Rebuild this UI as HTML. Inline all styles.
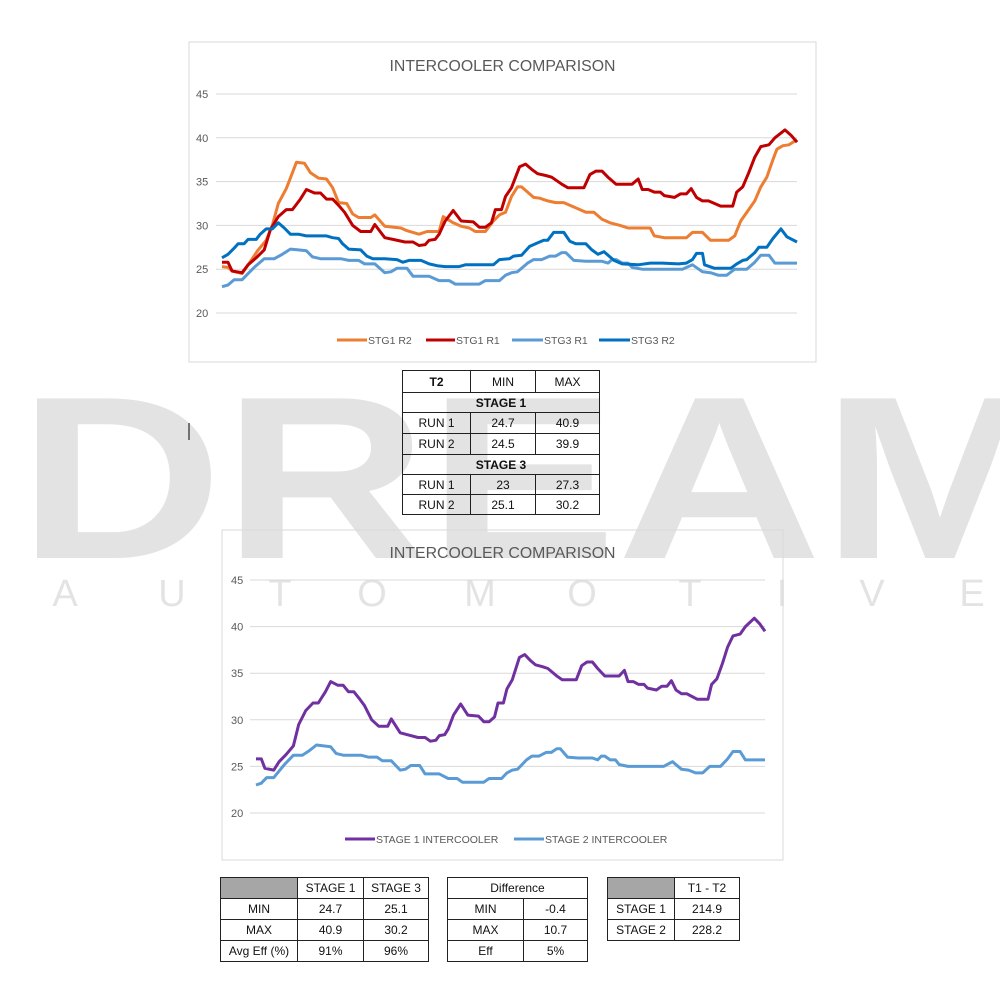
<!DOCTYPE html>
<html><head><meta charset="utf-8">
<style>
body{margin:0;background:#fff;}
#root{position:relative;width:1000px;height:1000px;overflow:hidden;font-family:"Liberation Sans",sans-serif;}
svg{position:absolute;left:0;top:0;}
table{position:absolute;border-collapse:collapse;font-family:"Liberation Sans Narrow","Liberation Sans",sans-serif;font-size:12px;color:#111;}
td{border:1.5px solid #222;text-align:center;padding:0;}
</style></head><body><div id="root">
<table style="left:402px;top:370px;width:198px;">
<tr style="height:22px"><td style="width:67px;font-weight:bold">T2</td><td style="width:64px">MIN</td><td>MAX</td></tr>
<tr style="height:20px"><td colspan="3" style="font-weight:bold">STAGE 1</td></tr>
<tr style="height:21px"><td>RUN 1</td><td>24.7</td><td>40.9</td></tr>
<tr style="height:21px"><td>RUN 2</td><td>24.5</td><td>39.9</td></tr>
<tr style="height:20px"><td colspan="3" style="font-weight:bold">STAGE 3</td></tr>
<tr style="height:20px"><td>RUN 1</td><td>23</td><td>27.3</td></tr>
<tr style="height:20px"><td>RUN 2</td><td>25.1</td><td>30.2</td></tr>
</table>
<table style="left:220px;top:877px;width:209px;">
<tr style="height:21px"><td style="width:76px;background:#a6a6a6"></td><td style="width:65px">STAGE 1</td><td>STAGE 3</td></tr>
<tr style="height:21px"><td>MIN</td><td>24.7</td><td>25.1</td></tr>
<tr style="height:21px"><td>MAX</td><td>40.9</td><td>30.2</td></tr>
<tr style="height:21px"><td>Avg Eff (%)</td><td>91%</td><td>96%</td></tr>
</table>
<table style="left:447px;top:877px;width:141px;">
<tr style="height:21px"><td colspan="2">Difference</td></tr>
<tr style="height:21px"><td style="width:75px">MIN</td><td>-0.4</td></tr>
<tr style="height:21px"><td>MAX</td><td>10.7</td></tr>
<tr style="height:21px"><td>Eff</td><td>5%</td></tr>
</table>
<table style="left:607px;top:877px;width:133px;">
<tr style="height:21px"><td style="width:66px;background:#a6a6a6"></td><td>T1 - T2</td></tr>
<tr style="height:21px"><td>STAGE 1</td><td>214.9</td></tr>
<tr style="height:21px"><td>STAGE 2</td><td>228.2</td></tr>
</table>
<svg id="s" width="1000" height="1000" xmlns="http://www.w3.org/2000/svg"></svg>
</div>
<script>
const R1=[[85,25.8],[100,25.8],[110,24.8],[135,24.6],[150,25.5],[170,26.3],[190,27.2],[205,29.5],[225,31],[245,31.8],[260,31.8],[280,33],[295,34.1],[315,33.7],[330,33.7],[345,33],[360,33],[375,32.3],[390,31.5],[410,30],[430,29.3],[455,29.3],[465,30.1],[490,28.6],[510,28.4],[540,28.1],[560,28.1],[575,27.7],[590,27.8],[600,28.3],[615,28.4],[625,29],[640,30.5],[660,31.7],[680,30.5],[710,30.4],[725,29.8],[740,29.8],[755,30.3],[765,31.8],[780,31.8],[790,33.3],[805,34.3],[825,36.7],[840,37],[855,36.4],[870,35.9],[890,35.7],[905,35.5],[930,34.7],[945,34.3],[985,34.3],[1000,35.8],[1015,36.2],[1030,36.2],[1045,35.5],[1065,34.7],[1105,34.7],[1120,35.3],[1130,34.1],[1145,34.1],[1160,33.8],[1175,33.8],[1185,33.4],[1210,33.2],[1225,33.6],[1240,33.6],[1252,34.2],[1265,33.2],[1280,32.8],[1295,32.8],[1310,32.5],[1325,32.2],[1355,32.2],[1365,33.8],[1380,34.4],[1395,36],[1410,37.8],[1425,39],[1445,39.2],[1460,40],[1485,40.9],[1500,40.3],[1515,39.5]];
const R2=[[85,25.3],[100,25.2],[110,24.8],[135,24.5],[150,25.5],[175,27.2],[195,28.3],[210,30],[225,32.5],[245,34.2],[260,36],[270,37.2],[290,37.1],[305,36],[325,35.4],[345,35.3],[360,34.3],[375,32.6],[395,32.5],[410,31.3],[425,30.9],[455,30.9],[465,31.2],[490,29.9],[530,29.7],[545,29.4],[575,29],[595,29.3],[625,29.3],[635,31],[660,30.3],[680,29.9],[700,29.7],[715,29.3],[740,29.3],[760,30.5],[775,31.2],[790,31.5],[805,33.3],[820,34.4],[830,34.4],[845,33.8],[860,33.2],[875,33.1],[895,32.8],[915,32.6],[935,32.6],[955,32.2],[975,31.8],[990,31.5],[1010,31.5],[1030,30.7],[1050,30.3],[1075,30],[1095,29.7],[1150,29.7],[1160,28.8],[1185,28.6],[1240,28.6],[1255,29.2],[1280,29.2],[1300,28.3],[1345,28.3],[1360,28.8],[1375,30.5],[1395,31.8],[1410,32.8],[1425,34.4],[1440,35.5],[1455,37.5],[1465,38.7],[1480,39.1],[1495,39.2],[1515,39.8]];
const S1=[[85,23],[100,23.2],[115,23.8],[135,23.8],[150,24.5],[165,25.2],[190,26.2],[215,26.2],[235,26.7],[255,27.3],[275,27.2],[295,27.1],[310,26.4],[330,26.2],[345,26.2],[380,26.2],[400,26],[425,26],[440,25.6],[465,25.6],[490,24.6],[505,24.7],[520,25.1],[545,25.1],[560,24.2],[600,24.2],[625,23.7],[650,23.7],[665,23.3],[725,23.3],[740,23.7],[775,23.7],[790,24.3],[805,24.6],[820,24.7],[845,25.7],[860,26.1],[880,26.1],[900,26.5],[915,26.5],[930,26.9],[940,26.9],[960,26],[990,25.9],[1030,25.9],[1045,25.7],[1055,26.1],[1065,26.1],[1080,25.7],[1095,25.7],[1105,25.2],[1130,25],[1230,25],[1255,25.5],[1280,24.7],[1300,24.6],[1320,24.3],[1340,24.3],[1360,25],[1390,25],[1410,25.8],[1425,26.6],[1445,26.6],[1460,25.7],[1515,25.7]];
const S2=[[85,26.3],[100,26.7],[115,27.4],[125,27.9],[140,27.9],[150,28.4],[170,28.4],[180,29],[195,29.6],[210,29.6],[225,30.3],[240,29.7],[255,29],[275,29],[295,28.8],[345,28.8],[360,28.6],[375,28.5],[385,27.9],[400,27.3],[430,27.2],[445,26.5],[460,26.2],[490,26.2],[520,26.1],[535,25.8],[550,26],[580,26],[600,25.6],[620,25.4],[640,25.3],[675,25.3],[690,25.5],[760,25.5],[775,26.1],[800,26.2],[810,26.5],[830,26.6],[850,27.6],[870,28],[885,28.3],[895,28.3],[910,29.2],[935,29.2],[950,28.2],[965,27.9],[990,27.9],[1005,27.2],[1020,26.7],[1035,27],[1060,26],[1080,25.6],[1120,25.5],[1150,25.7],[1180,25.7],[1220,25.6],[1240,25.7],[1255,26.1],[1265,26.8],[1280,26.8],[1285,25.5],[1310,25.1],[1350,25.1],[1365,25.6],[1380,26],[1390,26.1],[1410,26.9],[1420,27.5],[1440,27.5],[1455,28.5],[1475,29.6],[1490,28.7],[1515,28.1]];
let h='';
h+='<g fill="#000" font-family="Liberation Sans,sans-serif">';
h+='<text x="18" y="558" font-size="232" font-weight="bold" fill-opacity="0.11" textLength="1040" lengthAdjust="spacingAndGlyphs">DREAM</text>';
const aw='AUTOMOTIVE',ax=[65,172,280,372,480,582,690,782,872,972];
for(let i=0;i<10;i++)h+=`<text x="${ax[i]}" y="606" font-size="38" text-anchor="middle" fill-opacity="0.11">${aw[i]}</text>`;
h+='</g>';
function chart(bx,by,bw,bh,px0,px1,y20,y45,ty,series,lab,ly,legend){
 let s=`<rect x="${bx}" y="${by}" width="${bw}" height="${bh}" fill="none" stroke="#d9d9d9"/>`;
 s+=`<text x="${bx+bw/2}" y="${ty}" font-size="16" fill="#595959" text-anchor="middle" textLength="226" lengthAdjust="spacingAndGlyphs">INTERCOOLER COMPARISON</text>`;
 for(let v=20;v<=45;v+=5){const y=y20+(y45-y20)*(v-20)/25;
  s+=`<line x1="${px0-6}" x2="${px1}" y1="${y}" y2="${y}" stroke="#d9d9d9"/>`;
  s+=`<text x="${lab}" y="${y+4}" font-size="11" fill="#595959">${v}</text>`;}
 const X=zx=>px0+(zx-85)/1430*(px1-px0), Y=v=>y20+(y45-y20)*(v-20)/25;
 for(const [d,c] of series) s+=`<polyline fill="none" stroke="${c}" stroke-width="3" stroke-linejoin="round" points="${d.map(p=>X(p[0]).toFixed(1)+','+Y(p[1]).toFixed(1)).join(' ')}"/>`;
 for(const [x1,x2,c,t] of legend){s+=`<line x1="${x1}" x2="${x2}" y1="${ly}" y2="${ly}" stroke="${c}" stroke-width="3"/><text x="${x2+1}" y="${ly+4}" font-size="10.5" fill="#595959">${t}</text>`;}
 return s;
}
h+=chart(189,42,627,320,222,797,313,94,71,[[R2,'#ed7d31'],[R1,'#c00000'],[S1,'#5b9bd5'],[S2,'#0070c0']],196,340,
 [[337,367,'#ed7d31','STG1 R2'],[426,455,'#c00000','STG1 R1'],[512,543,'#5b9bd5','STG3 R1'],[599,630,'#0070c0','STG3 R2']]);
h+=chart(222,530,561,330,256,765,813,580,558,[[R1,'#7030a0'],[S1,'#5b9bd5']],231,839,
 [[345,375,'#7030a0','STAGE 1 INTERCOOLER'],[514,544,'#5b9bd5','STAGE 2 INTERCOOLER']]);
h+='<line x1="189" x2="189" y1="423" y2="440" stroke="#000"/>';
document.getElementById('s').innerHTML=h;
</script>
</body></html>
